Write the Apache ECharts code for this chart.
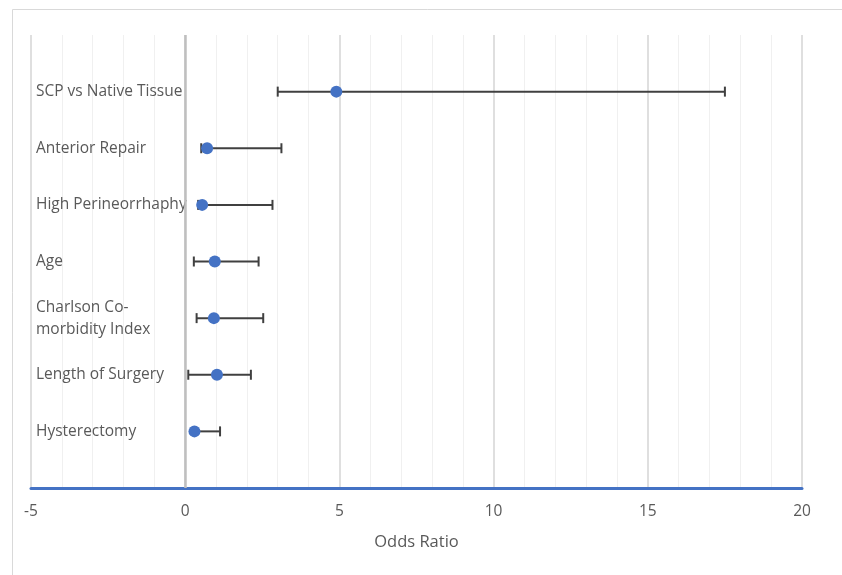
<!DOCTYPE html>
<html>
<head>
<meta charset="utf-8">
<script src="https://cdn.jsdelivr.net/npm/echarts@6/dist/echarts.min.js"></script>
<style>
  html, body { margin: 0; padding: 0; background: #fff; }
  #chart { width: 842px; height: 575px; }
</style>
</head>
<body>
<div id="chart"></div>
<script>
"use strict";

// ── Datos ─────────────────────────────────────────────────────────────────
const factors = [
  "SCP vs Native Tissue", "Anterior Repair", "High Perineorrhaphy", "Age",
  "Charlson Co-\nmorbidity Index", "Length of Surgery", "Hysterectomy"
];
const rowPos    = [7, 6, 5, 4, 3, 2, 1];
const oddsRatio = [4.9, 0.71, 0.55, 0.96, 0.93, 1.03, 0.3];
const ciLower   = [3.0, 0.52, 0.42, 0.28, 0.37, 0.1, 0.27];
const ciUpper   = [17.5, 3.12, 2.83, 2.38, 2.53, 2.13, 1.13];
const xTicks    = [-5, 0, 5, 10, 15, 20];

const BLUE = "#4472C4";
const GREY = "#595959";
const FONT = "'Open Sans', 'Liberation Sans', sans-serif";

const labelByPos = {};
rowPos.forEach((p, i) => { labelByPos[p] = factors[i]; });

const el = document.getElementById("chart");
const chart = echarts.init(el, null, { renderer: "canvas" });

chart.setOption({
  animation: false,
  backgroundColor: "#fff",
  graphic: [{
    type: "rect", left: 10, top: 7,
    shape: { width: 840, height: 580 },
    style: { fill: "none", stroke: "#d9d9d9", lineWidth: 1 },
    silent: true,
  }],
  grid: { left: 31, right: 40, top: 35, bottom: 87 },
  xAxis: {
    type: "value",
    min: xTicks[0], max: xTicks[xTicks.length - 1], interval: 5,
    name: "Odds Ratio", nameLocation: "middle", nameGap: 46,
    nameTextStyle: { fontFamily: FONT, fontSize: 16.5, color: GREY },
    axisLine: { show: true, onZero: false, lineStyle: { color: BLUE, width: 3 } },
    axisTick: { show: false },
    axisLabel: { fontFamily: FONT, fontSize: 15.5, color: GREY, margin: 16 },
    splitLine: { show: true, lineStyle: { color: "#d4d4d4", width: 1.5 } },
    minorTick: { show: false, splitNumber: 5 },
    minorSplitLine: { show: true, lineStyle: { color: "#f0f0f0", width: 1 } },
  },
  yAxis: {
    type: "value", min: 0, max: 8, interval: 1,
    axisLine: { show: false },
    axisTick: { show: false },
    splitLine: { show: false },
    axisLabel: {
      inside: true, align: "left", margin: 5,
      fontFamily: FONT, fontSize: 15.5, color: GREY, lineHeight: 22,
      formatter: v => labelByPos[v] || "",
    },
  },
  series: [
    {
      type: "custom",
      name: "CI",
      renderItem(params, api) {
        const y = api.value(2);
        const lo = api.coord([api.value(0), y]);
        const hi = api.coord([api.value(1), y]);
        const cap = 5;
        const style = { stroke: "#404040", lineWidth: 2 };
        return {
          type: "group",
          children: [
            { type: "line", shape: { x1: lo[0], y1: lo[1], x2: hi[0], y2: hi[1] }, style },
            { type: "line", shape: { x1: lo[0], y1: lo[1] - cap, x2: lo[0], y2: lo[1] + cap }, style },
            { type: "line", shape: { x1: hi[0], y1: hi[1] - cap, x2: hi[0], y2: hi[1] + cap }, style },
          ],
        };
      },
      data: rowPos.map((p, i) => [ciLower[i], ciUpper[i], p]),
      z: 3,
    },
    {
      type: "scatter",
      name: "OR",
      symbol: "circle", symbolSize: 12,
      itemStyle: { color: BLUE, opacity: 1 },
      data: rowPos.map((p, i) => [oddsRatio[i], p]),
      z: 4,
      markLine: {
        silent: true, symbol: "none", label: { show: false },
        lineStyle: { color: "#bfbfbf", width: 2.5, type: "solid" },
        data: [{ xAxis: 0 }],
      },
    },
  ],
});
</script>
</body>
</html>
